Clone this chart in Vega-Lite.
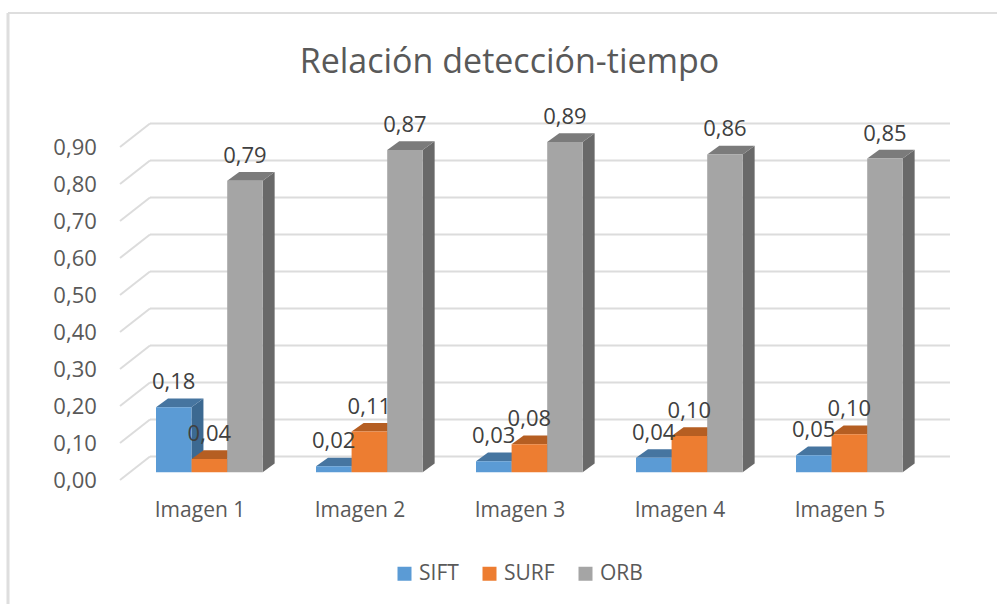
{"$schema":"https://vega.github.io/schema/vega-lite/v6.json","width":997,"height":604,"padding":0,"autosize":{"type":"none"},"background":"#ffffff","view":{"stroke":null},
"title":{"text":"Relación detección-tiempo","anchor":"middle","dx":11,"offset":-80,"font":"Open Sans","fontSize":34,"fontWeight":"normal","color":"#595959"},
"datasets":{"bars":[
{"image":"Imagen 1","series":"SIFT","value":0.176},{"image":"Imagen 1","series":"SURF","value":0.036},{"image":"Imagen 1","series":"ORB","value":0.788},
{"image":"Imagen 2","series":"SIFT","value":0.016},{"image":"Imagen 2","series":"SURF","value":0.11},{"image":"Imagen 2","series":"ORB","value":0.871},
{"image":"Imagen 3","series":"SIFT","value":0.03},{"image":"Imagen 3","series":"SURF","value":0.076},{"image":"Imagen 3","series":"ORB","value":0.893},
{"image":"Imagen 4","series":"SIFT","value":0.039},{"image":"Imagen 4","series":"SURF","value":0.098},{"image":"Imagen 4","series":"ORB","value":0.859},
{"image":"Imagen 5","series":"SIFT","value":0.046},{"image":"Imagen 5","series":"SURF","value":0.103},{"image":"Imagen 5","series":"ORB","value":0.848}],
"ticks":[{"tick":0},{"tick":0.1},{"tick":0.2},{"tick":0.3},{"tick":0.4},{"tick":0.5},{"tick":0.6},{"tick":0.7},{"tick":0.8},{"tick":0.9}]},
"data":{"name":"bars"},
"transform":[
{"calculate":"toNumber(replace(datum.image,'Imagen ',''))-1","as":"group"},
{"calculate":"indexof(['SIFT','SURF','ORB'],datum.series)","as":"s"},
{"calculate":"datum.group+datum.s*0.2225","as":"x0"},
{"calculate":"datum.x0+0.2215","as":"x1"},
{"calculate":"datum.x0+0.1108","as":"xc"},
{"calculate":"datum.image+datum.series","as":"key"},
{"calculate":"replace(format(datum.value,'.2f'),'.',',')","as":"label"},
{"calculate":"0","as":"zero"}],
"resolve":{"scale":{"color":"independent"}},
"layer":[
{"data":{"values":[{"a":1}]},"mark":{"type":"rule","color":"#dedede","strokeWidth":3},"encoding":{"x":{"datum":-0.925,"type":"quantitative","scale":{"domain":[-0.975,5.25625],"nice":false,"zero":false},"axis":null},"y":{"datum":-0.356,"type":"quantitative","scale":{"domain":[-0.356,1.2765],"nice":false,"zero":false},"axis":null},"y2":{"datum":1.2414}}},
{"data":{"values":[{"a":1}]},"mark":{"type":"rule","color":"#dedede","strokeWidth":2},"encoding":{"x":{"datum":-0.925,"type":"quantitative","scale":{"domain":[-0.975,5.25625],"nice":false,"zero":false},"axis":null},"x2":{"datum":5.25625},"y":{"datum":1.2414,"type":"quantitative","scale":{"domain":[-0.356,1.2765],"nice":false,"zero":false},"axis":null}}},
{"data":{"name":"ticks"},"transform":[{"calculate":"datum.tick+0.0427","as":"back"},{"calculate":"-0.0375","as":"xa"},{"calculate":"4.9625","as":"xb"}],"mark":{"type":"rule","color":"#dcdcdc","strokeWidth":2},"encoding":{"x":{"field":"xa","type":"quantitative","scale":{"domain":[-0.975,5.25625],"nice":false,"zero":false},"axis":null},"x2":{"field":"xb"},"y":{"field":"back","type":"quantitative","scale":{"domain":[-0.356,1.2765],"nice":false,"zero":false},"axis":null}}},
{"data":{"name":"ticks"},"transform":[{"calculate":"datum.tick+0.0427","as":"back"},{"calculate":"datum.tick-0.0208","as":"front"},{"calculate":"-0.0375","as":"xb"},{"calculate":"-0.225","as":"xa"}],"mark":{"type":"rule","color":"#dcdcdc","strokeWidth":2},"encoding":{"x":{"field":"xa","type":"quantitative","scale":{"domain":[-0.975,5.25625],"nice":false,"zero":false},"axis":null},"x2":{"field":"xb"},"y":{"field":"front","type":"quantitative","scale":{"domain":[-0.356,1.2765],"nice":false,"zero":false},"axis":null},"y2":{"field":"back"}}},
{"data":{"name":"ticks"},"transform":[{"calculate":"datum.tick-0.0208","as":"front"},{"calculate":"-0.37","as":"xa"},{"calculate":"replace(format(datum.tick,'.2f'),'.',',')","as":"label"}],"mark":{"type":"text","align":"right","baseline":"middle","font":"Open Sans","fontSize":22,"color":"#595959","dy":1},"encoding":{"x":{"field":"xa","type":"quantitative","scale":{"domain":[-0.975,5.25625],"nice":false,"zero":false},"axis":null},"y":{"field":"front","type":"quantitative","scale":{"domain":[-0.356,1.2765],"nice":false,"zero":false},"axis":null},"text":{"field":"label"}}},
{"transform":[{"calculate":"[0,1]","as":"t"},{"flatten":["t"]},{"calculate":"datum.x1+datum.t*0.075","as":"xs"},{"calculate":"datum.t*0.0235","as":"yb"},{"calculate":"datum.value+datum.t*0.0235","as":"yt"}],"mark":{"type":"area","interpolate":"linear"},"encoding":{"detail":{"field":"key"},"x":{"field":"xs","type":"quantitative","scale":{"domain":[-0.975,5.25625],"nice":false,"zero":false},"axis":null},"y":{"field":"yt","type":"quantitative","stack":null,"scale":{"domain":[-0.356,1.2765],"nice":false,"zero":false},"axis":null},"y2":{"field":"yb"},"color":{"field":"series","type":"nominal","scale":{"domain":["SIFT","SURF","ORB"],"range":["#3c6991","#a5551e","#696969"]},"legend":null}}},
{"transform":[{"calculate":"[0,1]","as":"t"},{"flatten":["t"]},{"calculate":"datum.x0+datum.t*0.075","as":"xl"},{"calculate":"datum.x1+datum.t*0.075","as":"xr"},{"calculate":"datum.value+datum.t*0.0235","as":"yt"}],"mark":{"type":"area","orient":"horizontal","interpolate":"linear"},"encoding":{"detail":{"field":"key"},"y":{"field":"yt","type":"quantitative","scale":{"domain":[-0.356,1.2765],"nice":false,"zero":false},"axis":null},"x":{"field":"xl","type":"quantitative","stack":null,"scale":{"domain":[-0.975,5.25625],"nice":false,"zero":false},"axis":null},"x2":{"field":"xr"},"color":{"field":"series","type":"nominal","scale":{"domain":["SIFT","SURF","ORB"],"range":["#4675a0","#b55e22","#7b7b7b"]},"legend":null}}},
{"mark":{"type":"rect"},"encoding":{"x":{"field":"x0","type":"quantitative","scale":{"domain":[-0.975,5.25625],"nice":false,"zero":false},"axis":null},"x2":{"field":"x1"},"y":{"field":"value","type":"quantitative","scale":{"domain":[-0.356,1.2765],"nice":false,"zero":false},"axis":null},"y2":{"field":"zero"},"color":{"field":"series","type":"nominal","scale":{"domain":["SIFT","SURF","ORB"],"range":["#5b9bd5","#ed7d31","#a5a5a5"]},"legend":{"title":null,"orient":"none","legendX":394,"legendY":563,"direction":"horizontal","columns":3,"symbolType":"square","symbolSize":196,"symbolStrokeWidth":0,"labelFont":"Open Sans","labelFontSize":21,"labelColor":"#595959","columnPadding":20,"labelOffset":4,"symbolOpacity":1}}}},
{"mark":{"type":"text","align":"center","baseline":"middle","font":"Open Sans","fontSize":22,"color":"#404040","dy":-25},"encoding":{"x":{"field":"xc","type":"quantitative","scale":{"domain":[-0.975,5.25625],"nice":false,"zero":false},"axis":null},"y":{"field":"value","type":"quantitative","scale":{"domain":[-0.356,1.2765],"nice":false,"zero":false},"axis":null},"text":{"field":"label"}}},
{"transform":[{"filter":"datum.series=='SIFT'"},{"calculate":"datum.group+0.275","as":"xl"},{"calculate":"-0.1046","as":"yl"}],"mark":{"type":"text","align":"center","baseline":"middle","font":"Open Sans","fontSize":21,"color":"#595959"},"encoding":{"x":{"field":"xl","type":"quantitative","scale":{"domain":[-0.975,5.25625],"nice":false,"zero":false},"axis":null},"y":{"field":"yl","type":"quantitative","scale":{"domain":[-0.356,1.2765],"nice":false,"zero":false},"axis":null},"text":{"field":"image"}}}
]}
